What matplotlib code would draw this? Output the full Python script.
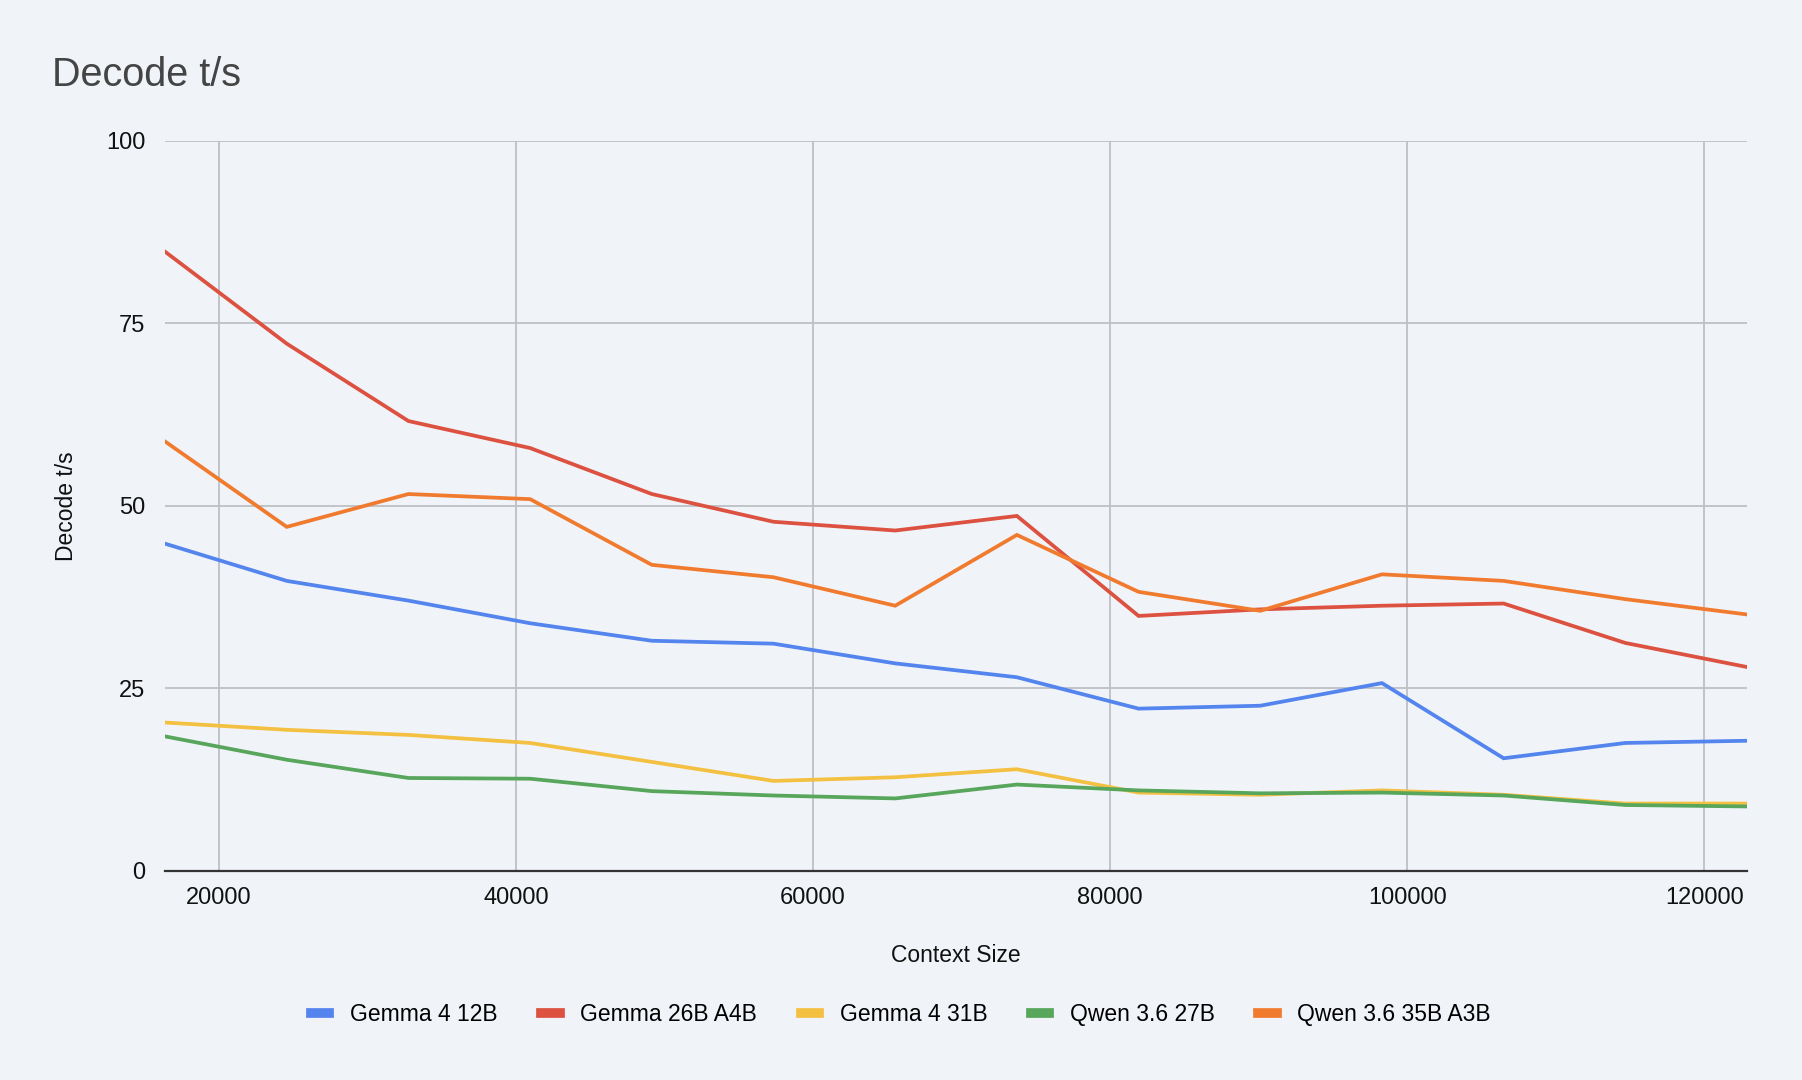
import matplotlib.pyplot as plt
from matplotlib.lines import Line2D

plt.rcParams['font.family'] = ['Liberation Sans', 'DejaVu Sans']

context_size = [16384, 24576, 32768, 40960, 49152, 57344, 65536,
                73728, 81920, 90112, 98304, 106496, 114688, 122880]

gemma4_12b = [44.8, 39.7, 37.0, 33.9, 31.5, 31.1, 28.4,
              26.5, 22.2, 22.6, 25.7, 15.4, 17.5, 17.8]
gemma_26b_a4b = [84.8, 72.2, 61.6, 57.9, 51.6, 47.8, 46.6,
                 48.6, 34.9, 35.8, 36.3, 36.6, 31.2, 27.9]
gemma4_31b = [20.3, 19.3, 18.6, 17.5, 14.9, 12.3, 12.8,
              13.9, 10.7, 10.4, 11.0, 10.4, 9.2, 9.2]
qwen36_27b = [18.4, 15.2, 12.7, 12.6, 10.9, 10.3, 9.9,
              11.8, 11.0, 10.6, 10.7, 10.3, 9.0, 8.8]
qwen36_35b_a3b = [58.8, 47.1, 51.6, 50.9, 41.9, 40.2, 36.3,
                  46.0, 38.2, 35.6, 40.6, 39.7, 37.2, 35.1]

series_names = ["Gemma 4 12B", "Gemma 26B A4B", "Gemma 4 31B",
                "Qwen 3.6 27B", "Qwen 3.6 35B A3B"]
series_values = [gemma4_12b, gemma_26b_a4b, gemma4_31b, qwen36_27b, qwen36_35b_a3b]
colors = ["#5484ED", "#DC5140", "#F4C042", "#57A65B", "#F07B2F"]

bg = "#F0F4F9"
fig = plt.figure(figsize=(18.02, 10.8), dpi=100, facecolor=bg)
ax = fig.add_axes([0.0916, 0.1938, 0.8779, 0.6759])
ax.set_facecolor(bg)

for name, vals, c in zip(series_names, series_values, colors):
    ax.plot(context_size, vals, color=c, linewidth=2.7, label=name,
            solid_joinstyle='miter')

ax.set_xlim(16384, 122880)
ax.set_ylim(0, 100)
ax.set_xticks([20000, 40000, 60000, 80000, 100000, 120000])
ax.set_yticks([0, 25, 50, 75, 100])
ax.grid(True, color="#BDC1C6", linewidth=1.3)
ax.set_axisbelow(True)
for s in ['top', 'right', 'left']:
    ax.spines[s].set_visible(False)
ax.spines['bottom'].set_color('#333333')
ax.spines['bottom'].set_linewidth(1.6)
ax.tick_params(length=0, labelsize=17, colors='#111111')
ax.tick_params(axis='x', pad=12)
ax.tick_params(axis='y', pad=14)

ax.set_xlabel("Context Size", fontsize=16.5, color='#111111', labelpad=25)
ax.set_ylabel("Decode t/s", fontsize=16.5, color='#111111', labelpad=20)

fig.text(0.029, 0.931, "Decode t/s", fontsize=28.5, color='#444444',
         ha='left', va='center')

handles = [Line2D([0], [0], color=c, linewidth=7) for c in colors]
fig.legend(handles, series_names, loc='center', bbox_to_anchor=(0.5, 0.061),
           ncol=5, frameon=False, fontsize=16.5, handlelength=0.8,
           handletextpad=0.9, columnspacing=1.9)

fig.savefig("out.png", dpi=100, facecolor=bg)
